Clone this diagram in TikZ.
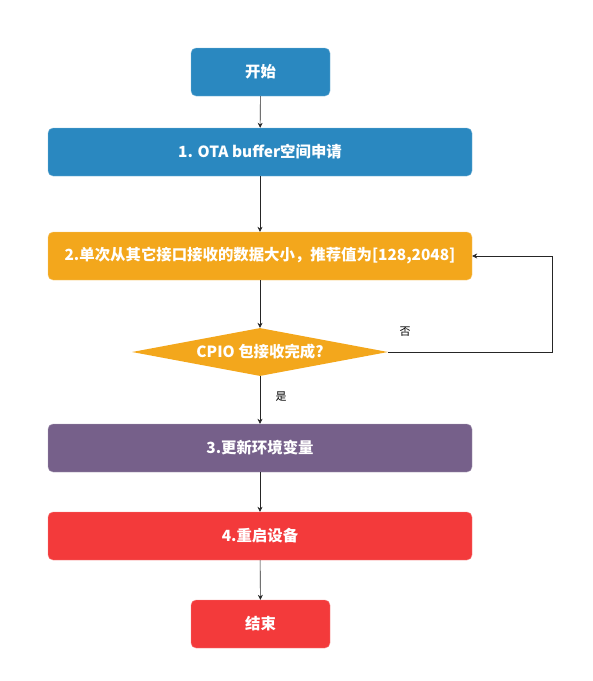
\documentclass[tikz,border=0pt]{standalone}
\usepackage{fontspec}
\setmainfont{Noto Sans CJK SC}
\usetikzlibrary{arrows.meta,shapes.geometric}

\definecolor{stepblue}{HTML}{2A88C0}
\definecolor{steporange}{HTML}{F3A71C}
\definecolor{steppurple}{HTML}{76608A}
\definecolor{stepred}{HTML}{F33A3B}

\begin{document}
\begin{tikzpicture}[x=1pt,y=-1pt,
  box/.style={rounded corners=5pt,draw=#1!60!white,fill=#1,text=white,
    font=\fontsize{15.4}{17}\selectfont\bfseries,minimum height=48pt,inner sep=0pt},
  endbox/.style={box=#1,minimum width=139pt},
  widebox/.style={box=#1,minimum width=424pt},
  flow/.style={-{Stealth[length=5pt,width=5pt]},black!85,line width=0.6pt},
  lbl/.style={font=\fontsize{11}{13}\selectfont,text=black}]
  \useasboundingbox (0,0) rectangle (593,681);
  \node[endbox=stepblue] (start) at (260.5,72) {开始};
  \node[widebox=stepblue] (alloc) at (260,152) {1. OTA buffer空间申请};
  \node[widebox=steporange] (recv) at (260,256) {2.单次从其它接口接收的数据大小，推荐值为[128,2048]};
  \node[diamond,aspect=5.33,fill=steporange,text=white,inner sep=0pt,
    minimum width=256pt,minimum height=48pt,
    font=\fontsize{15.4}{17}\selectfont\bfseries] (done) at (260,352) {CPIO 包接收完成?};
  \node[widebox=steppurple] (env) at (260,448) {3.更新环境变量};
  \node[widebox=stepred] (reboot) at (260,536) {4.重启设备};
  \node[endbox=stepred] (stop) at (260.5,624) {结束};
  \coordinate (loop) at (552,352);
  \draw[flow] (start) -- (alloc);
  \draw[flow] (alloc) -- (recv);
  \draw[flow] (recv) -- (done);
  \draw[flow] (done) -- (env);
  \draw[flow] (env) -- (reboot);
  \draw[flow] (reboot) -- (stop);
  \draw[flow] (done.east) -- (loop) |- (recv.east);
  \node[lbl] (nolbl) at (405,332) {否};
  \node[lbl] (yeslbl) at (281,397) {是};
\end{tikzpicture}
\end{document}
